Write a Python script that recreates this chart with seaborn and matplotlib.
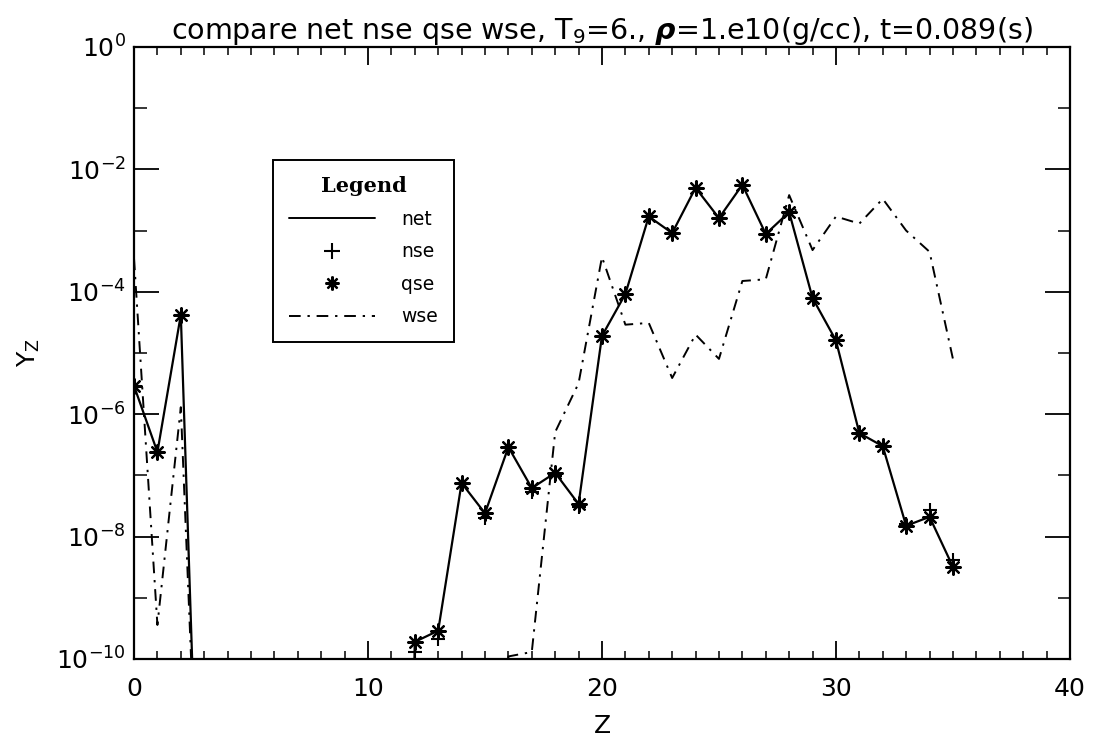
import numpy as np
import pandas as pd
import matplotlib
matplotlib.use("Agg")
import matplotlib.pyplot as plt
from matplotlib.lines import Line2D
from matplotlib.ticker import FixedLocator, NullFormatter
import seaborn as sns

# Proton number
Z = list(range(0, 36))

# Mass fractions per element, Z = 0 .. 35 (values far below 1e-10 run off the axis)
net = [2.9e-6, 2.4e-7, 4.2e-5, 1e-16, 1e-30, 1e-30, 1e-30, 1e-30, 1e-30, 1e-30,
       1e-30, 1e-30, 1.9e-10, 2.9e-10, 7.5e-8, 2.4e-8, 2.9e-7, 6.2e-8, 1.1e-7, 3.4e-8,
       1.9e-5, 9.2e-5, 1.7e-3, 9.1e-4, 5.0e-3, 1.6e-3, 5.6e-3, 8.8e-4, 2.0e-3, 7.9e-5,
       1.6e-5, 4.9e-7, 3.0e-7, 1.5e-8, 2.1e-8, 3.2e-9]
nse = [2.9e-6, 2.4e-7, 4.2e-5, 1e-16, 1e-30, 1e-30, 1e-30, 1e-30, 1e-30, 1e-30,
       1e-30, 1e-30, 1.3e-10, 2.1e-10, 7.3e-8, 2.0e-8, 2.8e-7, 5.3e-8, 9.6e-8, 3.0e-8,
       1.9e-5, 9.0e-5, 1.7e-3, 9.0e-4, 5.0e-3, 1.6e-3, 5.6e-3, 8.6e-4, 2.0e-3, 7.8e-5,
       1.6e-5, 4.8e-7, 3.0e-7, 1.6e-8, 2.7e-8, 4.2e-9]
qse = net
wse = [3.5e-4, 3.6e-10, 1.3e-6, 6e-16, 1e-30, 1e-30, 1e-30, 1e-30, 1e-30, 1e-30,
       1e-30, 1e-30, 1e-30, 1e-30, 1e-30, 1e-30, 1.1e-10, 1.3e-10, 5.1e-7, 3.2e-6,
       3.7e-4, 2.9e-5, 3.1e-5, 3.9e-6, 2.0e-5, 8.0e-6, 1.5e-4, 1.6e-4, 3.8e-3, 4.8e-4,
       1.7e-3, 1.3e-3, 3.3e-3, 1.0e-3, 4.5e-4, 8.0e-6]

df = pd.DataFrame({"Z": Z, "net": net, "nse": nse, "qse": qse, "wse": wse})

sns.set_theme(style="white")
plt.rcParams["font.family"] = ["DejaVu Sans"]
plt.rcParams["mathtext.fontset"] = "dejavusans"
plt.rcParams["text.color"] = "black"
plt.rcParams["axes.labelcolor"] = "black"
plt.rcParams["xtick.color"] = "black"
plt.rcParams["ytick.color"] = "black"

fig = plt.figure(figsize=(10.94, 7.40), dpi=100)
ax = fig.add_axes([0.1225, 0.1095, 0.8555, 0.827])

dashdot = (6, 3.5, 1.2, 3.5)
asterisk = (8, 2, 0)

sns.lineplot(data=df, x="Z", y="net", ax=ax, color="black", lw=1.6, estimator=None)
sns.lineplot(data=df, x="Z", y="wse", ax=ax, color="black", lw=1.4, estimator=None,
             dashes=False)
ax.lines[-1].set_dashes(dashdot)
sns.scatterplot(data=df, x="Z", y="nse", ax=ax, marker="+", color="black",
                s=110, linewidth=1.5, zorder=4)
sns.scatterplot(data=df, x="Z", y="qse", ax=ax, marker=asterisk, color="black",
                edgecolor="black", s=110, linewidth=1.6, zorder=5)

ax.set_yscale("log")
ax.set_xlim(0, 40)
ax.set_ylim(1e-10, 1)

ax.set_xticks([0, 10, 20, 30, 40])
ax.xaxis.set_minor_locator(FixedLocator(np.arange(0, 41, 1)))
ax.yaxis.set_major_locator(FixedLocator([10.0 ** k for k in range(-10, 1, 2)]))
ax.yaxis.set_minor_locator(FixedLocator([10.0 ** k for k in range(-9, 0, 2)]))
ax.yaxis.set_minor_formatter(NullFormatter())

ax.tick_params(which="both", direction="in", top=True, right=True, bottom=True,
               left=True, color="black", labelcolor="black")
ax.tick_params(axis="x", which="major", length=13, width=1.3, labelsize=18, pad=13)
ax.tick_params(axis="x", which="minor", length=6, width=1.1)
ax.tick_params(axis="y", which="major", length=18, width=1.3, labelsize=18, pad=6)
ax.tick_params(axis="y", which="minor", length=9, width=1.1)
for sp in ax.spines.values():
    sp.set_color("black")
    sp.set_linewidth(1.6)

ax.set_xlabel("Z", fontsize=18, labelpad=9)
ax.set_ylabel(r"Y$_\mathrm{Z}$", fontsize=18, labelpad=10)
ax.set_title(r"compare net nse qse wse, T$_9$=6., $\boldsymbol{\rho}$=1.e10(g/cc), t=0.089(s)",
             fontsize=20.5, pad=5)

handles = [
    Line2D([], [], color="black", lw=1.4),
    Line2D([], [], color="black", lw=0, marker="+", markersize=11, markeredgewidth=1.5),
    Line2D([], [], color="black", lw=0, marker=asterisk, markersize=10, markeredgewidth=1.6),
    Line2D([], [], color="black", lw=1.4, dashes=dashdot),
]
leg = ax.legend(handles, ["net", "nse", "qse", "wse"], title="Legend",
                loc="upper left", bbox_to_anchor=(0.1485, 0.815),
                frameon=True, fancybox=False, edgecolor="black", framealpha=1,
                fontsize=13.5, handlelength=4.6, handletextpad=1.4, labelspacing=0.72,
                borderpad=0.85, borderaxespad=0)
leg.get_frame().set_linewidth(1.4)
leg.get_title().set_fontfamily("DejaVu Serif")
leg.get_title().set_fontweight("bold")
leg.get_title().set_fontsize(15)

fig.savefig("out.png", dpi=100)
